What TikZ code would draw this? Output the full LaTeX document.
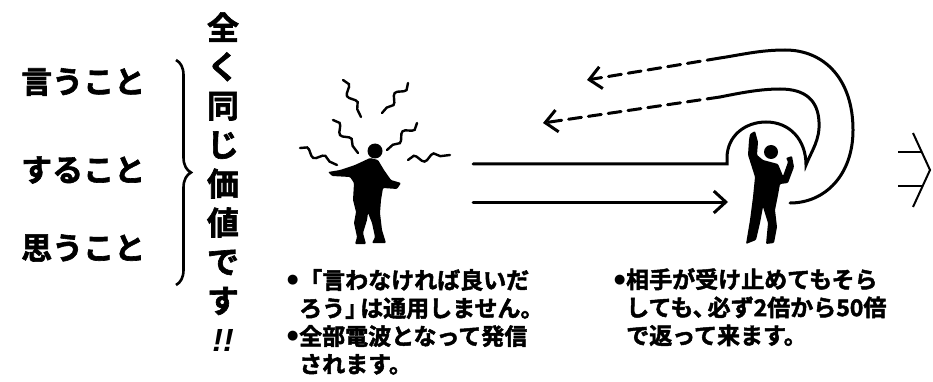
\documentclass[tikz,border=0pt]{standalone}
\usepackage{fontspec}
\newfontfamily\jpfont{Noto Sans CJK JP}[BoldFont = {Noto Sans CJK JP Bold}, BoldFeatures = {FakeBold = 2}]
\newfontfamily\dotfont{DejaVu Sans}
\newfontfamily\bangfont{Liberation Sans}[BoldFeatures = {FakeBold = 2}]
\usetikzlibrary{arrows.meta, decorations.pathmorphing, decorations.pathreplacing}
\newcommand\bulletdot{\makebox[12pt][l]{\raisebox{5pt}{\dotfont\fontsize{13}{13}\selectfont ●}}}
\newcommand\hangin{\hspace*{12pt}}
\tikzset{
  every node/.style = {inner sep = 0pt},
  item/.style = {anchor = west, font = \jpfont\bfseries\fontsize{31}{34}\selectfont},
  note/.style = {anchor = north west, align = left, font = \jpfont\bfseries\fontsize{23}{28}\selectfont},
  wave/.style = {line width = 2.4pt, line cap = round, decorate, decoration = {snake, amplitude = 3.5pt, segment length = 20pt}},
  beam/.style = {line width = 3pt, line cap = round},
  wire/.style = {beam, dash pattern = on 13pt off 7pt},
  barb/.style = {-{Straight Barb[length = 12pt, width = 22pt]}},
}
\begin{document}
\begin{tikzpicture}[x = 1pt, y = -1pt]
\useasboundingbox (0,0) rectangle (933,382);

\node[item] (say) at (21,82) {言うこと};
\node[item] (do) at (21,170) {すること};
\node[item] (think) at (21,248) {思うこと};
\coordinate (bracetop) at (176,60);
\coordinate (bracebot) at (176,285);
\draw[line width = 2.6pt, decorate, decoration = {brace, amplitude = 15pt}] (bracetop) -- (bracebot);
\node[font = \jpfont\bfseries\fontsize{32}{39}\selectfont, align = center] (same) at (223,182) {全\\く\\同\\じ\\価\\値\\で\\す\\{\bangfont\bfseries\itshape !!}};

% the one who speaks
\fill[rounded corners = 1pt] (370,158) -- (355,165) -- (340,170) -- (328,172) -- (332,176) -- (350,177) -- (354,183) -- (353,200) -- (356,212) -- (354,223) -- (357,237) -- (355,244) -- (366,244) -- (363,233) -- (367,220) -- (368,213) -- (372,223) -- (375,237) -- (372,243) -- (386,243) -- (382,230) -- (380,213) -- (381,200) -- (383,188) -- (397,189) -- (401,183) -- (391,180) -- (384,170) -- (378,160) -- cycle;
\fill (375,151) circle (7.5);
\draw[wave] (343,80) -- (361,117);
\draw[wave] (408,83) -- (382,113);
\draw[wave] (333,120) -- (358,153);
\draw[wave] (417,123) -- (387,150);
\draw[wave] (300,148) -- (337,165);
\draw[wave] (408,160) -- (450,155);

% the one who receives
\fill[rounded corners = 1pt] (750,134) -- (755,131) -- (758,142) -- (757,155) -- (763,160) -- (778,164) -- (783,176) -- (788,162) -- (786,158) -- (792,156) -- (794,167) -- (788,183) -- (780,184) -- (778,195) -- (775,210) -- (777,227) -- (774,243) -- (766,244) -- (768,223) -- (763,207) -- (760,223) -- (756,240) -- (746,244) -- (750,220) -- (753,197) -- (755,177) -- (748,155) -- (749,140) -- cycle;
\fill (771,152) circle (7);

\coordinate (sendtop) at (473,164);
\coordinate (cupleft) at (727,164);
\coordinate (cusp) at (806,165);
\coordinate (innerturn) at (720,97);
\coordinate (innertip) at (543,123);
\coordinate (outerstart) at (790,203);
\coordinate (outerturn) at (720,58);
\coordinate (outertip) at (587,80);
\coordinate (sendbot) at (473,202);
\coordinate (sendtip) at (728,202);

\draw[beam] (sendtop) -- (cupleft) -- (727,158) .. controls (727,136) and (745,122) .. (766,122) .. controls (790,122) and (806,140) .. (cusp) .. controls (812,150) and (820,140) .. (819,122) .. controls (818,100) and (805,89) .. (780,89) .. controls (760,89) and (740,93) .. (innerturn);
\draw[wire, barb] (innerturn) -- (innertip);
\draw[beam] (outerstart) .. controls (825,203) and (853,175) .. (853,130) .. controls (853,80) and (825,50) .. (785,50) .. controls (760,50) and (740,55) .. (outerturn);
\draw[wire, barb] (outerturn) -- (outertip);
\draw[beam, barb] (sendbot) -- (sendtip);

\coordinate (chevtop) at (913,133);
\coordinate (chevtip) at (930,170);
\coordinate (chevbot) at (913,207);
\draw[line width = 2pt] (chevtop) -- (chevtip) -- (chevbot);
\draw[line width = 2pt] (898,152) -- (921,152);
\draw[line width = 2pt] (898,186) -- (922,186);

\node[note] (silent) at (287,269) {\bulletdot「言わなければ良いだ\\\hangin ろう」\kern-8pt は通用しません。\\\bulletdot 全部電波となって発信\\\hangin されます。};
\node[note] (back) at (614,268) {\bulletdot 相手が受け止めてもそら\\\hangin しても、\kern-8pt 必ず2倍から50倍\\\hangin で返って来ます。};
\end{tikzpicture}
\end{document}
